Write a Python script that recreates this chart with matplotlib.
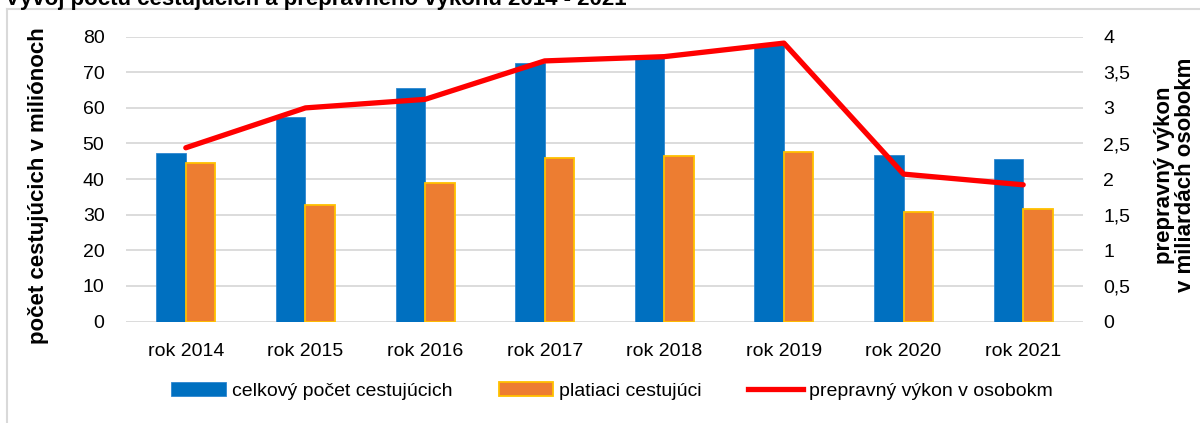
import matplotlib
matplotlib.use("Agg")
import matplotlib.pyplot as plt
from matplotlib.lines import Line2D
from matplotlib.patches import Patch
import numpy as np

years = ["rok 2014", "rok 2015", "rok 2016", "rok 2017", "rok 2018", "rok 2019", "rok 2020", "rok 2021"]
celkovy = [47.3, 57.4, 65.6, 72.5, 74.3, 77.7, 46.7, 45.7]
platiaci = [44.6, 32.7, 38.8, 45.8, 46.4, 47.7, 30.8, 31.6]
vykon = [2.44, 3.00, 3.12, 3.66, 3.72, 3.91, 2.07, 1.92]
left_ticks = [0, 10, 20, 30, 40, 50, 60, 70, 80]
right_ticks = [0, 0.5, 1, 1.5, 2, 2.5, 3, 3.5, 4]
right_labels = ["0", "0,5", "1", "1,5", "2", "2,5", "3", "3,5", "4"]

plt.rcParams['font.family'] = ['Liberation Sans', 'DejaVu Sans']

W, H = 1200, 423
fig = plt.figure(figsize=(W / 100, H / 100), dpi=100)
fig.patch.set_facecolor("white")

# frame
fx, fy = 7 / W, 1 - 9 / H
fig.add_artist(Line2D([fx, 1.01], [fy, fy], transform=fig.transFigure, color="#D9D9D9", lw=1.5))
fig.add_artist(Line2D([fx, fx], [-0.01, fy], transform=fig.transFigure, color="#D9D9D9", lw=1.5))

# title (cut off at top)
fig.text(5 / W, 1 - 5 / H, "Vývoj počtu cestujúcich a prepravného výkonu 2014 - 2021",
         fontsize=16, fontweight="bold", ha="left", va="baseline")

ax = fig.add_axes([126 / W, 1 - 321.5 / H, (1083 - 126) / W, (321.5 - 36.7) / H])
x = np.arange(len(years))
w = 0.247
ax.bar(x - w / 2, celkovy, width=w, color="#0070C0", edgecolor="#2E86D0", linewidth=0.6, zorder=3)
ax.bar(x + w / 2, platiaci, width=w, color="#ED7D31", edgecolor="#FFC000", linewidth=1.3, zorder=3)
ax.set_xlim(-0.5, len(years) - 0.5)
ax.set_ylim(0, 80)
ax.set_yticks(left_ticks)
ax.yaxis.grid(True, color="#D9D9D9", linewidth=1.3, zorder=0)
ax.set_axisbelow(True)
for s in ax.spines.values():
    s.set_visible(False)
ax.tick_params(axis="y", length=0, pad=15.5, labelsize=14)
ax.tick_params(axis="x", length=0, pad=15.5, labelsize=14)
ax.set_xticks(x)
ax.set_xticklabels(years)
ax.set_ylabel("počet cestujúcich v miliónoch", fontsize=16, fontweight="bold")
ax.yaxis.set_label_coords((39 - 126) / 957, (321.5 - 186) / 284.8)
ax.yaxis.label.set_va("center")

ax2 = ax.twinx()
ax2.plot(x, vykon, color="#FF0000", linewidth=3.8, zorder=5, solid_capstyle="round")
ax2.set_ylim(0, 4)
ax2.set_yticks(right_ticks)
ax2.set_yticklabels(right_labels)
for s in ax2.spines.values():
    s.set_visible(False)
ax2.tick_params(axis="y", length=0, pad=14.5, labelsize=14)
ax2.set_ylabel("prepravný výkon\nv miliardách osobokm", fontsize=16, fontweight="bold",
               linespacing=1.05)
ax2.yaxis.set_label_coords((1175 - 126) / 957, (321.5 - 175) / 284.8)
ax2.yaxis.label.set_va("center")

handles = [Patch(facecolor="#0070C0", edgecolor="#2E86D0", linewidth=0.6),
           Patch(facecolor="#ED7D31", edgecolor="#FFC000", linewidth=1.3),
           Line2D([0], [0], color="#FF0000", linewidth=3.8)]
labels = ["celkový počet cestujúcich", "platiaci cestujúci", "prepravný výkon v osobokm"]
fig.legend(handles, labels, loc="center", bbox_to_anchor=(612 / W, 1 - 391 / H), ncol=3,
           frameon=False, fontsize=14, handlelength=2.8, handleheight=0.7,
           handletextpad=0.3, columnspacing=2.4)

fig.savefig("out.png", dpi=100)
